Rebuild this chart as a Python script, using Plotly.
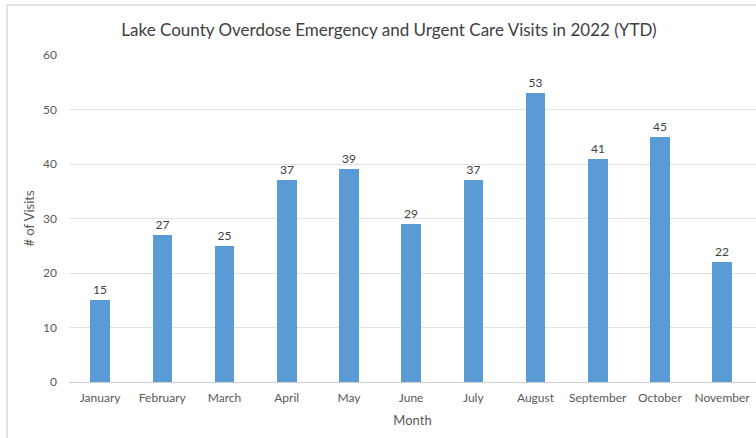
import plotly.graph_objects as go

months = ["January", "February", "March", "April", "May", "June", "July",
          "August", "September", "October", "November"]
visits = [15, 27, 25, 37, 39, 29, 37, 53, 41, 45, 22]

title_text = "Lake County Overdose Emergency and Urgent Care Visits in 2022 (YTD)"
x_title = "Month"
y_title = "# of Visits"

FONT = "Lato, 'Open Sans', sans-serif"
TXT = "#595959"

fig = go.Figure(go.Bar(
    x=list(range(len(months))), y=visits,
    width=0.315,
    marker=dict(color="#5B9BD5", line=dict(width=0)),
    text=[str(v) for v in visits], textposition="outside",
    textfont=dict(family=FONT, size=12, color="#404040"),
    cliponaxis=False,
))

W, H = 756, 438
L, R, T, B = 69, 0, 55, 56
pw = W - L - R
ph = H - T - B
band = 62.2
xmax = -0.5 + pw / band

fig.update_layout(
    width=W, height=H,
    margin=dict(l=L, r=R, t=T, b=B, pad=0),
    paper_bgcolor="white", plot_bgcolor="white",
    font=dict(family=FONT, color=TXT, size=12),
    showlegend=False,
    bargap=0,
    title=dict(text=title_text, x=(389) / W, xanchor="center",
               y=1 - 30 / H, yanchor="middle",
               font=dict(family=FONT, size=17, color="#404040")),
    xaxis=dict(
        range=[-0.5, xmax],
        tickmode="array", tickvals=list(range(len(months))), ticktext=months,
        showgrid=False, zeroline=False, showline=False, ticks="",
        ticklabeloverflow="allow",
        ticklabelstandoff=7,
        tickfont=dict(family=FONT, size=12, color=TXT),
        title=dict(text=x_title, font=dict(family=FONT, size=13, color=TXT), standoff=11),
    ),
    yaxis=dict(
        range=[0, 60], dtick=10, tick0=0,
        showgrid=True, gridcolor="#E3E3E3", gridwidth=1,
        zeroline=True, zerolinecolor="#D0D0D0", zerolinewidth=1,
        showline=False, ticks="",
        ticklabelstandoff=11,
        tickfont=dict(family=FONT, size=12, color=TXT),
        title=dict(text=y_title, font=dict(family=FONT, size=13, color=TXT), standoff=5),
    ),
    shapes=[dict(
        type="rect", xref="paper", yref="paper",
        x0=(7 - L) / pw, x1=1.2, y0=-0.5, y1=(H - B - 5) / ph,
        line=dict(color="#D9D9D9", width=1.5), fillcolor="rgba(0,0,0,0)",
        layer="below",
    )],
)

fig.write_html("out.html")
